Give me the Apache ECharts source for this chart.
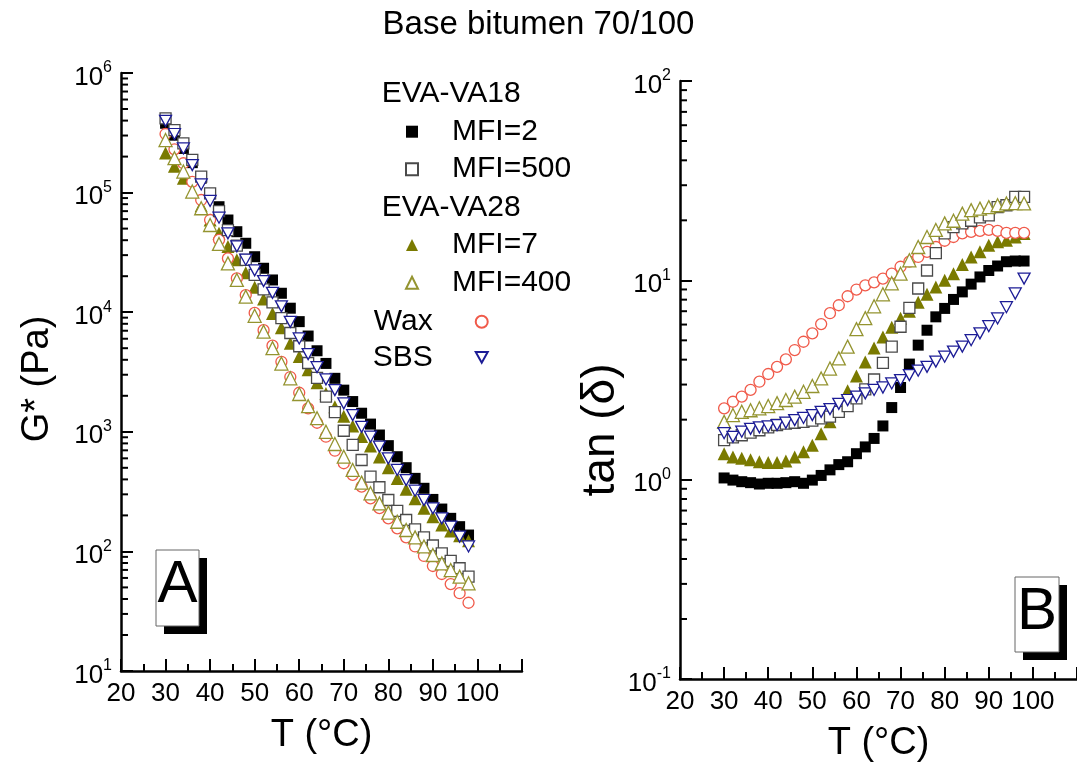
<!DOCTYPE html>
<html><head><meta charset="utf-8">
<script src="https://cdn.jsdelivr.net/npm/echarts/dist/echarts.min.js"></script>
<style>html,body{margin:0;padding:0;background:#fff}#c{width:1077px;height:771px}</style>
</head><body><div id="c"></div>
<script>
// ---------------- data ----------------
const temperature = [30,32,34,36,38,40,42,44,46,48,50,52,54,56,58,60,62,64,66,68,70,72,74,76,78,80,82,84,86,88,90,92,94,96,98];

// G* (Pa)
const gMFI2   = [380000,302000,234000,178000,132000,97700,76200,59000,47100,37700,29100,23300,18600,14400,10800,8340,6320,4760,3730,2800,2230,1790,1430,1160,940,766,619,501,408,337,272,226,189,161,137];
const gMFI500 = [418000,333000,258000,188000,136000,98600,70100,48600,36000,27400,20500,15500,12100,8910,6700,5190,3760,2820,1970,1460,1020,776,581,422,344,269,218,183,153,131,112,96.4,83.2,72.3,61.5];
const gMFI7   = [214000,166000,132000,102000,77600,58900,45700,35500,27500,21400,16200,12900,9770,7410,5500,4270,3310,2570,2090,1620,1350,1120,912,759,617,501,407,331,275,229,195,166,148,135,123];
const gMFI400 = [275000,194000,150000,102000,74000,53600,37200,25600,18600,13500,9330,6870,5010,3720,2800,2070,1640,1300,1000,791,619,480,376,306,252,211,177,151,131,110,93.3,79.4,69.8,61.5,54.1];
const gWax    = [309000,230000,176000,123000,86700,59000,40200,28200,19200,13900,9860,7080,5250,3850,2870,2120,1570,1190,910,695,546,436,348,278,230,189,156,131,110,91.6,75.5,64.7,53.3,44.7,37.2];
const gSBS    = [398000,309000,234000,170000,117000,85100,61700,45700,35500,27500,22400,18200,14500,11200,8320,6030,4470,3470,2750,2230,1730,1380,1100,910,752,600,480,395,322,269,229,189,161,133,110];

// tan(delta)
const tanMFI2   = [1.02,0.995,0.977,0.966,0.951,0.959,0.959,0.966,0.977,0.959,0.995,1.05,1.12,1.19,1.23,1.35,1.46,1.61,1.86,2.30,2.90,3.80,4.73,5.62,6.56,7.23,8.02,8.75,9.57,10.4,11.2,11.8,12.4,12.5,12.5];
const tanMFI500 = [1.58,1.63,1.67,1.72,1.77,1.83,1.88,1.91,1.93,1.95,1.98,2.03,2.07,2.19,2.34,2.56,2.84,3.18,3.85,4.65,5.85,7.28,9.10,11.2,13.7,17.2,18.5,19.3,19.9,20.7,21.2,23.3,23.8,26.2,26.2];
const tanMFI7   = [1.35,1.30,1.28,1.26,1.23,1.22,1.22,1.24,1.30,1.38,1.49,1.70,1.95,2.29,2.79,3.31,3.89,4.57,5.19,5.82,6.46,7.00,7.76,8.51,9.27,10.0,10.8,12.0,13.1,13.9,15.0,15.6,15.9,16.5,17.2];
const tanMFI400 = [1.95,2.11,2.19,2.23,2.28,2.34,2.42,2.51,2.61,2.76,2.95,3.22,3.61,4.06,4.65,5.69,6.46,7.41,8.51,9.66,10.8,12.6,14.7,16.5,17.9,19.3,19.9,21.6,22.5,22.9,23.3,23.8,24.3,24.4,24.3];
const tanWax    = [2.28,2.46,2.61,2.82,3.10,3.39,3.68,4.01,4.47,4.92,5.42,6.03,6.84,7.50,8.32,8.99,9.44,9.77,10.2,10.8,11.7,12.4,13.1,13.9,14.7,15.8,16.5,17.2,17.5,17.7,17.9,17.7,17.3,17.3,17.3];
const tanSBS    = [1.71,1.64,1.74,1.80,1.83,1.85,1.88,1.93,1.99,2.04,2.11,2.19,2.26,2.40,2.51,2.61,2.71,2.82,2.90,3.04,3.16,3.35,3.52,3.68,3.91,4.14,4.39,4.65,5.01,5.42,5.89,6.44,7.33,8.59,10.2];

const seriesNames = ['MFI=2','MFI=7','Wax','MFI=500','MFI=400','SBS'];
const gData   = {'MFI=2':gMFI2,'MFI=500':gMFI500,'MFI=7':gMFI7,'MFI=400':gMFI400,'Wax':gWax,'SBS':gSBS};
const tanData = {'MFI=2':tanMFI2,'MFI=500':tanMFI500,'MFI=7':tanMFI7,'MFI=400':tanMFI400,'Wax':tanWax,'SBS':tanSBS};
const xTickLabelMax = 100;
const minorMultipliers = [2,3,4,5,6,7,8,9];

// ---------------- styles ----------------
const FF = "'Liberation Sans', Arial, Helvetica, sans-serif";
const markerStyle = {
  'MFI=2':   {symbol:'rect', symbolSize:11, itemStyle:{color:'#000000', opacity:1}},
  'MFI=500': {symbol:'rect', symbolSize:11, itemStyle:{color:'#ffffff', borderColor:'#4a4a4a', borderWidth:1.3, opacity:1}},
  'MFI=7':   {symbol:'triangle', symbolSize:13, itemStyle:{color:'#7a7a00', opacity:1}},
  'MFI=400': {symbol:'triangle', symbolSize:13, itemStyle:{color:'#ffffff', borderColor:'#949430', borderWidth:1.3, opacity:1}},
  'Wax':     {symbol:'circle', symbolSize:11, itemStyle:{color:'#ffffff', borderColor:'#f05a4a', borderWidth:1.3, opacity:1}},
  'SBS':     {symbol:'path://M0,0L10,0L5,9Z', symbolSize:[12,11], itemStyle:{color:'#ffffff', borderColor:'#1c1c96', borderWidth:1.3, opacity:1}}
};

function expLabel(v){ const e = Math.round(Math.log10(v)); return '{b|10}{s|' + e + '}'; }
const yLabel = {
  color:'#000', margin:9, formatter:expLabel,
  rich:{
    b:{fontSize:26, fontFamily:FF, color:'#000', lineHeight:26, padding:[9,0,0,0]},
    s:{fontSize:16, fontFamily:FF, color:'#000', lineHeight:20, verticalAlign:'top'}
  }
};
const axisLineS = {show:true, lineStyle:{color:'#000', width:2.5}};
const tickS = {show:true, inside:true, length:12, lineStyle:{color:'#000', width:2}};

function xAxisDef(gi){
  return {
    type:'value', gridIndex:gi, min:20, max:110, interval:10,
    name:'T (°C)', nameLocation:'middle', nameGap:46,
    nameTextStyle:{fontSize:38, fontFamily:FF, color:'#000'},
    axisLine:axisLineS, axisTick:tickS,
    minorTick:{show:true, splitNumber:2, length:7, lineStyle:{color:'#000', width:2}},
    splitLine:{show:false}, minorSplitLine:{show:false},
    axisLabel:{fontSize:26, fontFamily:FF, color:'#000', margin:10,
      formatter:v => (v > xTickLabelMax ? '' : String(v))}
  };
}
function yAxisDef(gi, min, max, split, name, gap, fs, pad){
  return {
    type:'log', logBase:10, gridIndex:gi, min:min, max:max, splitNumber:split,
    name:name, nameLocation:'middle', nameGap:gap,
    nameTextStyle:{fontSize:fs, fontFamily:FF, color:'#000', padding:pad},
    axisLine:axisLineS, axisTick:tickS, splitLine:{show:false},
    axisLabel:yLabel
  };
}
function minorValues(minExp, maxExp){
  const out = [];
  for (let e = minExp; e < maxExp; e++) for (const m of minorMultipliers) out.push(m * Math.pow(10, e));
  return out;
}
function minorTickSeries(gi, minExp, maxExp){
  return {
    type:'custom', xAxisIndex:gi, yAxisIndex:gi, silent:true, clip:false, z:5,
    data: minorValues(minExp, maxExp).map(v => [20, v]),
    renderItem:(params, api) => {
      const p = api.coord([api.value(0), api.value(1)]);
      return {type:'line', shape:{x1:p[0], y1:p[1], x2:p[0] + 7, y2:p[1]},
              style:{stroke:'#000', lineWidth:2}};
    }
  };
}

const series = [];
seriesNames.forEach(n => {
  const st = markerStyle[n];
  series.push(Object.assign({type:'scatter', name:n, xAxisIndex:0, yAxisIndex:0,
    data: temperature.map((t,i) => [t, gData[n][i]])}, st));
});
seriesNames.forEach(n => {
  const st = markerStyle[n];
  series.push(Object.assign({type:'scatter', name:n, xAxisIndex:1, yAxisIndex:1,
    data: temperature.map((t,i) => [t, tanData[n][i]])}, st));
});
series.push(minorTickSeries(0, 1, 6));
series.push(minorTickSeries(1, -1, 2));

const legendText = {fontSize:30, fontFamily:FF, color:'#000', lineHeight:30};
const chart = echarts.init(document.getElementById('c'), null, {renderer:'canvas'});
chart.setOption({
  animation:false,
  backgroundColor:'#fff',
  title:{text:'Base bitumen 70/100', left:'center', top:3,
    textStyle:{fontSize:33, fontWeight:'normal', fontFamily:FF, color:'#000'}},
  grid:[
    {left:121, top:73, width:401, height:598, outerBoundsMode:'none'},
    {left:680, top:81, width:397, height:598, outerBoundsMode:'none'}
  ],
  xAxis:[xAxisDef(0), xAxisDef(1)],
  yAxis:[
    yAxisDef(0, 10, 1e6, 5, 'G* (Pa)', 64, 38, [0,14,0,0]),
    yAxisDef(1, 0.1, 100, 3, 'tan (δ)', 52, 46, [0,100,0,0])
  ],
  legend:[
    {data:['MFI=2','MFI=500'], orient:'vertical', left:405, top:116.7, padding:0,
      itemWidth:12, itemHeight:12, itemGap:7.5, selectedMode:false,
      textStyle:Object.assign({}, legendText, {padding:[0,0,0,29]})},
    {data:['MFI=7','MFI=400'], orient:'vertical', left:405, top:230, padding:0,
      itemWidth:12, itemHeight:12, itemGap:7.7, selectedMode:false,
      textStyle:Object.assign({}, legendText, {padding:[0,0,0,29]})},
    {data:['Wax','SBS'], orient:'vertical', align:'right', left:372.7, top:306.7, padding:0,
      itemWidth:12, itemHeight:12, itemGap:5.6, selectedMode:false,
      textStyle:Object.assign({}, legendText, {padding:[0,38,0,0]})}
  ],
  graphic:[
    {type:'text', x:381.7, y:94, z:100, style:{text:'EVA-VA18', fontSize:30, fontFamily:FF, fill:'#000', align:'left', verticalAlign:'middle'}},
    {type:'text', x:381.7, y:208, z:100, style:{text:'EVA-VA28', fontSize:30, fontFamily:FF, fill:'#000', align:'left', verticalAlign:'middle'}},
    {type:'rect', z:100, shape:{x:164, y:558, width:43, height:76}, style:{fill:'#000'}},
    {type:'rect', z:101, shape:{x:156, y:550, width:43, height:76}, style:{fill:'#fff', stroke:'#666', lineWidth:1}},
    {type:'text', z:102, x:177.5, y:585, style:{text:'A', fontSize:60, fontFamily:FF, fill:'#000', align:'center', verticalAlign:'middle'}},
    {type:'rect', z:100, shape:{x:1023, y:585, width:44, height:75}, style:{fill:'#000'}},
    {type:'rect', z:101, shape:{x:1015, y:577, width:44, height:75}, style:{fill:'#fff', stroke:'#666', lineWidth:1}},
    {type:'text', z:102, x:1037, y:612, style:{text:'B', fontSize:60, fontFamily:FF, fill:'#000', align:'center', verticalAlign:'middle'}}
  ],
  series:series
});
</script>
</body></html>
